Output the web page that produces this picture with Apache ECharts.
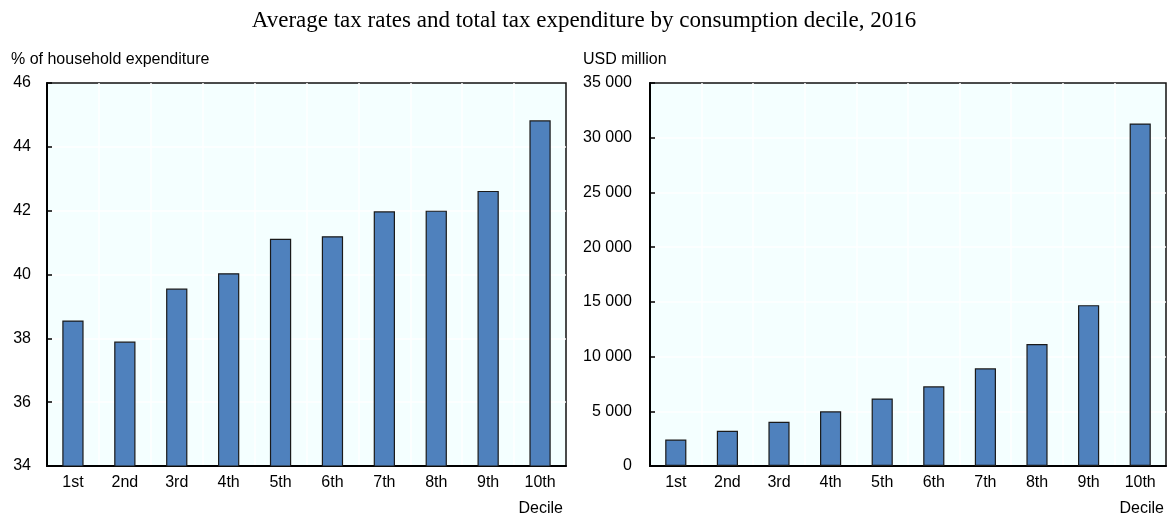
<!DOCTYPE html>
<html>
<head>
<meta charset="utf-8">
<script src="https://cdn.jsdelivr.net/npm/echarts@6/dist/echarts.min.js"></script>
<style>html,body{margin:0;padding:0;background:#fff}#c{width:1168px;height:518px}</style>
</head>
<body>
<div id="c"></div>
<script>
var categories = ['1st','2nd','3rd','4th','5th','6th','7th','8th','9th','10th'];
var taxRates = [38.56, 37.9, 39.56, 40.04, 41.12, 41.2, 41.98, 42.0, 42.62, 44.83];
var taxExpenditure = [2420, 3220, 4050, 5000, 6170, 7280, 8930, 11150, 14700, 31300];
var titleText = 'Average tax rates and total tax expenditure by consumption decile, 2016';
var leftAxisName = '% of household expenditure';
var rightAxisName = 'USD million';
var xAxisName = 'Decile';

var FONT = '"Liberation Sans", Arial, sans-serif';
var FS = 16;
var chart = echarts.init(document.getElementById('c'));
function fmtThousands(v){ return String(v).replace(/\B(?=(\d{3})+(?!\d))/g, '\u00a0'); }
function xAxisCfg(idx){
  return {
    type: 'category', gridIndex: idx, data: categories,
    axisLine: {lineStyle: {color: '#000', width: 2}},
    axisTick: {inside: true, length: 5, lineStyle: {color: '#000', width: 1.5}},
    axisLabel: {color: '#000', fontFamily: FONT, fontSize: FS, margin: 9},
    splitLine: {show: true, showMinLine: false, showMaxLine: false, lineStyle: {color: '#fff', width: 1.5}}
  };
}
function yAxisCfg(idx, min, max, interval, fmt, margin){
  return {
    type: 'value', gridIndex: idx, min: min, max: max, interval: interval,
    axisLine: {show: true, lineStyle: {color: '#000', width: 2}},
    axisTick: {show: true, inside: true, length: 5, lineStyle: {color: '#000', width: 1.5}},
    axisLabel: {color: '#000', fontFamily: FONT, fontSize: FS, margin: margin, formatter: fmt},
    splitLine: {show: true, showMinLine: false, showMaxLine: false, lineStyle: {color: '#fff', width: 1.5}}
  };
}
var barStyle = {color: '#4F81BD', borderColor: '#1a1a1a', borderWidth: 1.2};
chart.setOption({
  animation: false,
  backgroundColor: '#fff',
  title: {text: titleText, left: 'center', top: 4,
    textStyle: {fontFamily: '"Liberation Serif", "Times New Roman", serif', fontWeight: 'normal', fontSize: 23, color: '#000'}},
  grid: [
    {left: 47, top: 83, width: 519, height: 383, show: true, backgroundColor: '#F4FFFF', borderColor: '#111', borderWidth: 1.5},
    {left: 650, top: 83, width: 516, height: 383, show: true, backgroundColor: '#F4FFFF', borderColor: '#111', borderWidth: 1.5}
  ],
  xAxis: [xAxisCfg(0), xAxisCfg(1)],
  yAxis: [
    yAxisCfg(0, 34, 46, 2, function(v){return v;}, 16),
    yAxisCfg(1, 0, 35000, 5000, fmtThousands, 18)
  ],
  series: [
    {type: 'bar', xAxisIndex: 0, yAxisIndex: 0, data: taxRates, barWidth: '41%', itemStyle: barStyle},
    {type: 'bar', xAxisIndex: 1, yAxisIndex: 1, data: taxExpenditure, barWidth: '41%', itemStyle: barStyle}
  ],
  graphic: [
    {type: 'text', left: 11, top: 52, style: {text: leftAxisName, font: FS + 'px ' + FONT, fill: '#000'}},
    {type: 'text', left: 583, top: 52, style: {text: rightAxisName, font: FS + 'px ' + FONT, fill: '#000'}},
    {type: 'text', right: 1168 - 563, top: 501, style: {text: xAxisName, font: FS + 'px ' + FONT, fill: '#000'}},
    {type: 'text', right: 4, top: 501, style: {text: xAxisName, font: FS + 'px ' + FONT, fill: '#000'}}
  ]
});
</script>
</body>
</html>
